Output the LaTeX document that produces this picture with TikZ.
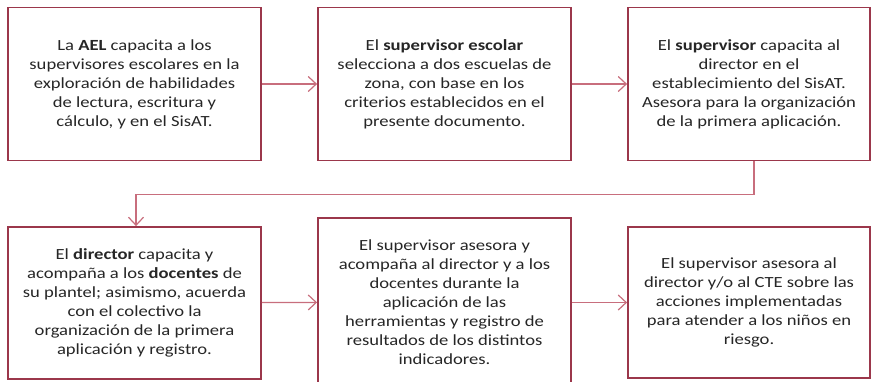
\documentclass[tikz,border=0pt]{standalone}
\usepackage{fontspec}
\setmainfont{Carlito}[FakeStretch=1.2]
\usepackage{tikz}
\usetikzlibrary{arrows.meta, positioning, calc}
\usepackage{xcolor}
\definecolor{boxred}{RGB}{155,55,75}
\definecolor{linered}{RGB}{200,110,125}

\begin{document}
\begin{tikzpicture}[x=1pt,y=1pt,
    stage/.style={draw=boxred, line width=1.8pt, fill=white, align=center,
      inner sep=0pt, font=\fontsize{15.5}{19}\selectfont, text=black!85},
    conn/.style={draw=linered, line width=1.2pt, -{Straight Barb[length=8pt,width=15pt]}}]
  \useasboundingbox (0,0) rectangle (872,-381);
  % first row
  \node[stage, minimum width=253, minimum height=153] (b1) at (134.5,-84)
    {La \textbf{AEL} capacita a los\\ supervisores escolares en la\\ exploración de habilidades\\ de lectura, escritura y\\ cálculo, y en el SisAT.};
  \node[stage, minimum width=253, minimum height=153] (b2) at (444.5,-84)
    {El \textbf{supervisor escolar}\\ selecciona a dos escuelas de\\ zona, con base en los\\ criterios establecidos en el\\ presente documento.};
  \node[stage, minimum width=242, minimum height=153] (b3) at (749,-84)
    {El \textbf{supervisor} capacita al\\ director en el\\ establecimiento del SisAT.\\ Asesora para la organización\\ de la primera aplicación.};
  % second row
  \node[stage, minimum width=253, minimum height=152] (b4) at (134.5,-303)
    {El \textbf{director} capacita y\\ acompaña a los \textbf{docentes} de\\ su plantel; asimismo, acuerda\\ con el colectivo la\\ organización de la primera\\ aplicación y registro.};
  \node[stage, minimum width=253, minimum height=168] (b5) at (444.5,-302)
    {El supervisor asesora y\\ acompaña al director y a los\\ docentes durante la\\ aplicación de las\\ herramientas y registro de\\ resultados de los distintos\\ indicadores.};
  \node[stage, minimum width=242, minimum height=151] (b6) at (749,-302.5)
    {El supervisor asesora al\\ director y/o al CTE sobre las\\ acciones implementadas\\ para atender a los niños en\\ riesgo.};
  % connectors
  \draw[conn] (b1) -- (b2);
  \draw[conn] (b2) -- (b3);
  \draw[conn] ($(b3.south)+(5,0)$) -- ++(0,-33) -| ($(b4.north)+(1.5,0)$);
  \draw[conn] (b4) -- (b5);
  \draw[conn] (b5.east |- b6.west) -- (b6.west);
\end{tikzpicture}
\end{document}
